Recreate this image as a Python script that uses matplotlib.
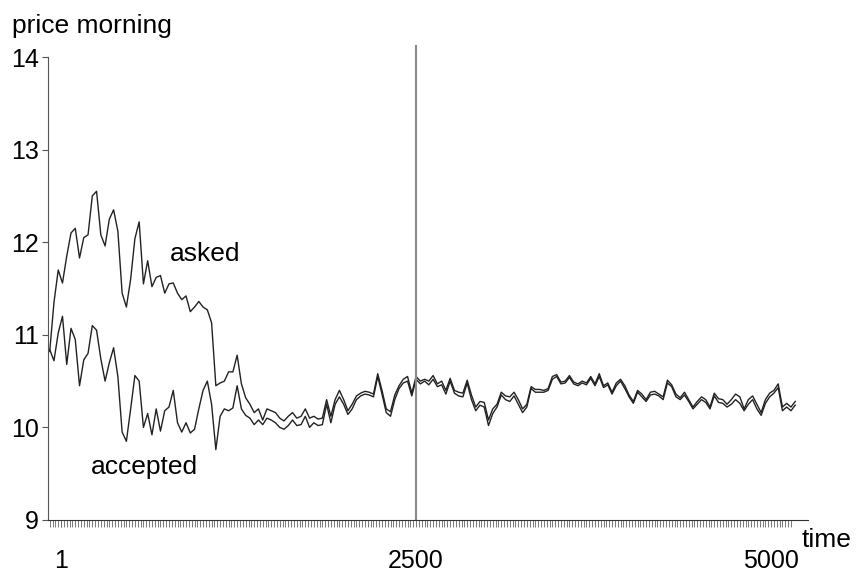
import matplotlib
matplotlib.use("Agg")
import matplotlib.pyplot as plt
from matplotlib.ticker import FixedLocator
import numpy as np

plt.rcParams["font.family"] = ["Liberation Sans", "DejaVu Sans"]

# time of each sample (every 30 steps)
time = np.arange(-80, 5171, 30)

# price asked
asked = [
    10.82, 11.35, 11.70, 11.56, 11.85, 12.10, 12.15, 11.83, 12.05, 12.08,
    12.50, 12.55, 12.08, 11.96, 12.25, 12.35, 12.12, 11.45, 11.30, 11.60,
    12.04, 12.22, 11.55, 11.80, 11.52, 11.62, 11.64, 11.45, 11.55, 11.56,
    11.45, 11.38, 11.42, 11.25, 11.30, 11.36, 11.30, 11.27, 11.13, 10.45,
    10.48, 10.50, 10.60, 10.60, 10.78, 10.47, 10.32, 10.25, 10.16, 10.20,
    10.08, 10.20, 10.18, 10.16, 10.10, 10.07, 10.12, 10.16, 10.10, 10.12,
    10.20, 10.10, 10.12, 10.09, 10.10, 10.30, 10.12, 10.30, 10.40, 10.30,
    10.18, 10.25, 10.34, 10.37, 10.39, 10.38, 10.36, 10.58, 10.40, 10.20,
    10.17, 10.35, 10.45, 10.52, 10.55, 10.37, 10.55, 10.50, 10.52, 10.50,
    10.56, 10.47, 10.50, 10.40, 10.53, 10.40, 10.38, 10.37, 10.51, 10.35,
    10.22, 10.28, 10.27, 10.08, 10.20, 10.25, 10.38, 10.34, 10.33, 10.38,
    10.30, 10.20, 10.25, 10.44, 10.41, 10.41, 10.40, 10.42, 10.55, 10.57,
    10.49, 10.50, 10.56, 10.49, 10.47, 10.50, 10.48, 10.55, 10.47, 10.58,
    10.45, 10.48, 10.38, 10.48, 10.52, 10.45, 10.35, 10.28, 10.40, 10.36,
    10.30, 10.38, 10.39, 10.36, 10.33, 10.51, 10.46, 10.36, 10.32, 10.38,
    10.30, 10.22, 10.28, 10.33, 10.30, 10.22, 10.37, 10.31, 10.30, 10.25,
    10.30, 10.36, 10.33, 10.20, 10.30, 10.34, 10.25, 10.16, 10.30, 10.37,
    10.40, 10.47, 10.22, 10.26, 10.22, 10.28,
]

# price accepted
accepted = [
    10.84, 10.72, 11.02, 11.20, 10.68, 11.07, 10.95, 10.45, 10.73, 10.80,
    11.10, 11.05, 10.74, 10.50, 10.70, 10.86, 10.55, 9.95, 9.85, 10.20,
    10.56, 10.50, 10.00, 10.15, 9.92, 10.20, 9.96, 10.18, 10.22, 10.40,
    10.05, 9.95, 10.05, 9.94, 9.98, 10.20, 10.40, 10.50, 10.25, 9.76,
    10.12, 10.20, 10.18, 10.21, 10.45, 10.20, 10.13, 10.10, 10.03, 10.08,
    10.03, 10.10, 10.08, 10.05, 10.00, 9.98, 10.02, 10.08, 10.02, 10.03,
    10.12, 10.00, 10.05, 10.02, 10.03, 10.25, 10.05, 10.25, 10.33, 10.25,
    10.14, 10.20, 10.30, 10.34, 10.36, 10.35, 10.33, 10.55, 10.36, 10.16,
    10.12, 10.30, 10.42, 10.48, 10.50, 10.34, 10.52, 10.47, 10.50, 10.46,
    10.52, 10.44, 10.46, 10.36, 10.50, 10.37, 10.34, 10.33, 10.48, 10.30,
    10.18, 10.24, 10.22, 10.02, 10.15, 10.22, 10.35, 10.30, 10.28, 10.34,
    10.25, 10.16, 10.22, 10.42, 10.38, 10.38, 10.38, 10.40, 10.52, 10.55,
    10.47, 10.48, 10.54, 10.47, 10.45, 10.48, 10.46, 10.53, 10.45, 10.55,
    10.43, 10.46, 10.36, 10.45, 10.50, 10.42, 10.33, 10.26, 10.38, 10.33,
    10.28, 10.35, 10.36, 10.34, 10.30, 10.48, 10.44, 10.33, 10.30, 10.35,
    10.28, 10.20, 10.25, 10.30, 10.27, 10.20, 10.34, 10.27, 10.26, 10.22,
    10.25, 10.30, 10.26, 10.18, 10.25, 10.30, 10.20, 10.13, 10.26, 10.33,
    10.37, 10.43, 10.18, 10.22, 10.18, 10.24,
]

xtick_vals = [1, 2500, 5000]
xtick_labels = ["1", "2500", "5000"]
ytick_vals = [9, 10, 11, 12, 13, 14]
split_time = 2500

fig = plt.figure(figsize=(8.56, 5.72), dpi=100)
ax = fig.add_axes([48 / 856, 52 / 572, 760 / 856, 475 / 572])

ax.plot(time, asked, color="#222222", lw=1.0)
ax.plot(time, accepted, color="#222222", lw=1.0)
ax.axvline(split_time, color="#8a8a8a", lw=1.5)

ax.set_xlim(-92, 5260)
ax.set_ylim(9, 14.13)

for s in ["top", "right"]:
    ax.spines[s].set_visible(False)
ax.spines["left"].set_bounds(9, 14)
ax.spines["left"].set_color("#555555")
ax.spines["bottom"].set_color("#333333")

ax.set_yticks(ytick_vals)
ax.tick_params(axis="y", length=4.5, width=0.8, color="#555555",
               labelsize=18, pad=2)

ax.xaxis.set_major_locator(FixedLocator(xtick_vals))
ax.set_xticklabels(xtick_labels)
ax.xaxis.set_minor_locator(FixedLocator(np.arange(-80, 5150, 20)))
ax.tick_params(axis="x", which="both", length=5, width=0.6, color="#666666")
ax.tick_params(axis="x", which="major", labelsize=18, pad=16)

ax.text(1014, 11.87, "asked", fontsize=19, ha="center", va="center")
ax.text(584, 9.57, "accepted", fontsize=19, ha="center", va="center")

fig.text(12 / 856, 1 - 33 / 572, "price morning", fontsize=19,
         ha="left", va="baseline")
fig.text(802 / 856, 1 - 540 / 572, "time", fontsize=19,
         ha="left", va="center")

fig.savefig("out.png", dpi=100)
